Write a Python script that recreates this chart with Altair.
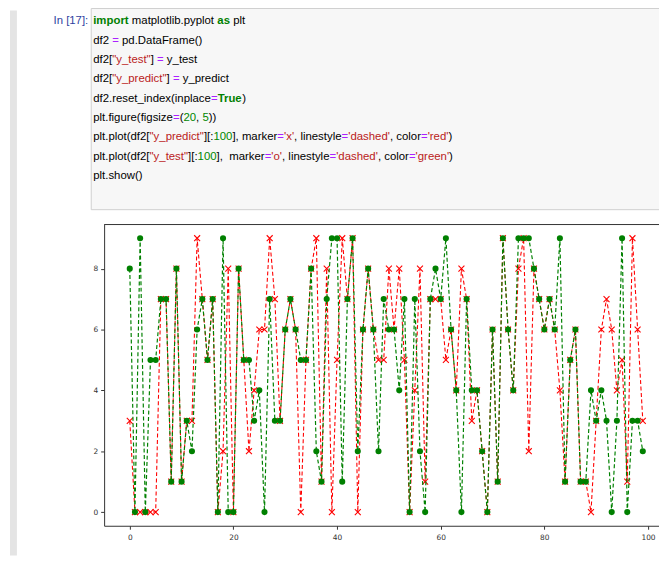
import altair as alt
import pandas as pd

# ---- data (first 100 rows) ----
index = list(range(100))
y_test = [8, 0, 9, 0, 5, 5, 7, 7, 1, 8, 1, 3, 2, 6, 7, 5, 7, 0, 9, 0,
          0, 8, 5, 5, 3, 4, 0, 7, 3, 3, 6, 7, 6, 5, 5, 8, 2, 1, 7, 9,
          9, 1, 7, 9, 2, 6, 8, 6, 2, 7, 6, 6, 4, 7, 0, 7, 2, 0, 7, 8,
          7, 9, 6, 4, 0, 7, 4, 4, 2, 0, 6, 1, 9, 6, 4, 9, 9, 9, 8, 7,
          6, 7, 6, 9, 1, 5, 6, 1, 1, 4, 3, 4, 3, 0, 3, 9, 0, 3, 3, 2]
y_predict = [3, 0, 0, 0, 0, 0, 7, 7, 1, 8, 1, 3, 3, 9, 7, 5, 7, 0, 2, 8,
             0, 8, 5, 2, 4, 6, 6, 9, 7, 3, 6, 7, 6, 0, 5, 8, 9, 1, 8, 0,
             5, 9, 7, 9, 0, 6, 8, 6, 5, 5, 8, 6, 8, 5, 0, 4, 8, 1, 7, 7,
             7, 5, 6, 4, 8, 7, 3, 4, 2, 0, 6, 1, 9, 6, 4, 8, 9, 2, 8, 7,
             6, 7, 6, 4, 1, 5, 6, 1, 1, 0, 3, 6, 7, 6, 4, 5, 1, 9, 6, 3]
x_ticks = [0, 20, 40, 60, 80, 100]
y_ticks = [0, 2, 4, 6, 8]

prompt = "In [17]:"
code_lines = [
    [("import", "kw"), (" matplotlib.pyplot ", "n"), ("as", "kw"), (" plt", "n")],
    [("df2 ", "n"), ("=", "op"), (" pd.DataFrame()", "n")],
    [("df2[", "n"), ('"y_test"', "s"), ("] ", "n"), ("=", "op"), (" y_test", "n")],
    [("df2[", "n"), ('"y_predict"', "s"), ("] ", "n"), ("=", "op"), (" y_predict", "n")],
    [("df2.reset_index(inplace", "n"), ("=", "op"), ("True", "kw"), (")", "n")],
    [("plt.figure(figsize", "n"), ("=", "op"), ("(", "n"), ("20", "num"), (", ", "n"),
     ("5", "num"), ("))", "n")],
    [("plt.plot(df2[", "n"), ('"y_predict"', "s"), ("][:", "n"), ("100", "num"),
     ("], marker", "n"), ("=", "op"), ("'x'", "s"), (", linestyle", "n"), ("=", "op"),
     ("'dashed'", "s"), (", color", "n"), ("=", "op"), ("'red'", "s"), (")", "n")],
    [("plt.plot(df2[", "n"), ('"y_test"', "s"), ("][:", "n"), ("100", "num"),
     ("],", "n"), ("  marker", "n"), ("=", "op"), ("'o'", "s"), (", linestyle", "n"),
     ("=", "op"), ("'dashed'", "s"), (", color", "n"), ("=", "op"), ("'green'", "s"),
     (")", "n")],
    [("plt.show()", "n")],
]

# ---- layout ----
PAD_L, PAD_T, PAD_B = 97, 216, 30
W, H = 560, 304
CODE_FONT = "Liberation Sans"
CODE_SIZE = 11.5

arial = {' ': 278, '"': 355, "'": 191, '(': 333, ')': 333, ',': 278, '.': 278, ':': 278,
         '=': 584, '[': 278, ']': 278, '_': 556, 'D': 722, 'F': 611, 'T': 611, 'I': 278}
for ch in "0123456789":
    arial[ch] = 556
arial.update({'a': 556, 'b': 556, 'c': 500, 'd': 556, 'e': 556, 'f': 278, 'g': 556, 'h': 556,
              'i': 222, 'j': 222, 'k': 500, 'l': 222, 'm': 833, 'n': 556, 'o': 556, 'p': 556,
              'q': 556, 'r': 333, 's': 500, 't': 278, 'u': 556, 'v': 500, 'w': 722, 'x': 500,
              'y': 500, 'z': 500})
arial_bold = dict(arial)
arial_bold.update({'i': 278, 'm': 889, 'p': 611, 'o': 611, 'r': 389, 't': 333, 'a': 556,
                   's': 556, 'T': 611, 'u': 611, 'e': 556})


def tw(text, bold=False):
    tbl = arial_bold if bold else arial
    return sum(tbl.get(c, 556) for c in text) * CODE_SIZE / 1000.0


colors = {"kw": "#008000", "n": "#000000", "op": "#AA22FF", "s": "#BA2121", "num": "#008800"}
rows = []
code_x0 = 94 - 105
for li, line in enumerate(code_lines):
    yy = 19 + 19.5 * li - 224
    xx = code_x0
    for text, kind in line:
        lead = len(text) - len(text.lstrip(" "))
        rows.append({"t": text.strip(" "), "tx": xx + tw(" " * lead), "ty": yy,
                     "c": colors[kind], "b": "bold" if kind == "kw" else "normal"})
        xx += tw(text, kind == "kw")
tok = pd.DataFrame(rows)

df = pd.DataFrame({"index": index, "y_test": y_test, "y_predict": y_predict})

xscale = alt.Scale(domain=[-4.95, -4.95 + W / 5.23], nice=False, zero=False)
yscale = alt.Scale(domain=[-0.45, 9.45], nice=False, zero=False)
ax_common = dict(labelFont="DejaVu Sans", labelFontSize=7.5, labelColor="#333333",
                 tickColor="#333333", tickSize=3.5, domainColor="#333333", domainWidth=1,
                 tickWidth=1, grid=False, title=None, format="d")
xaxis = alt.Axis(values=x_ticks, labelPadding=4, labelFlush=False, **ax_common)
yaxis = alt.Axis(values=y_ticks, labelPadding=3, **ax_common)

X = alt.X("index:Q", scale=xscale, axis=xaxis)

one = pd.DataFrame({"k": [0]})

left_bar = alt.Chart(one).mark_rect(color="#e4e4e4").encode(
    x=alt.value(10 - 105), x2=alt.value(17 - 105), y=alt.value(-PAD_T), y2=alt.value(H + PAD_B))
code_box = alt.Chart(one).mark_rect(fill="#f7f7f7", stroke="#cfcfcf", strokeWidth=1).encode(
    x=alt.value(92 - 105), x2=alt.value(W + 20), y=alt.value(-PAD_T - 2), y2=alt.value(209 - 224))
prompt_text = alt.Chart(one).mark_text(
    align="right", baseline="middle", font=CODE_FONT, fontSize=CODE_SIZE, color="#303F9F",
    text=prompt).encode(x=alt.value(89 - 105), y=alt.value(19 - 224))

code_norm = alt.Chart(tok).transform_filter("datum.b == 'normal'").mark_text(
    align="left", baseline="middle", font=CODE_FONT, fontSize=CODE_SIZE).encode(
    x=alt.X("tx:Q", scale=None, axis=None), y=alt.Y("ty:Q", scale=None, axis=None),
    text="t:N", color=alt.Color("c:N", scale=None))
code_bold = alt.Chart(tok).transform_filter("datum.b == 'bold'").mark_text(
    align="left", baseline="middle", font=CODE_FONT, fontSize=CODE_SIZE, fontWeight="bold").encode(
    x=alt.X("tx:Q", scale=None, axis=None), y=alt.Y("ty:Q", scale=None, axis=None),
    text="t:N", color=alt.Color("c:N", scale=None))

top_spine = alt.Chart(one).mark_rule(color="#333333", strokeWidth=1).encode(
    x=alt.value(0), x2=alt.value(W + 10), y=alt.value(0))

base = alt.Chart(df)
red_line = base.mark_line(color="red", strokeDash=[4, 2.5], strokeWidth=1.1).encode(
    x=X, y=alt.Y("y_predict:Q", scale=yscale, axis=yaxis))
red_pts = base.mark_point(shape="M-1,-1L1,1M-1,1L1,-1", filled=False, color="red",
                          size=36, strokeWidth=1.1, opacity=1).encode(
    x=X, y=alt.Y("y_predict:Q", scale=yscale, axis=yaxis))
green_line = base.mark_line(color="green", strokeDash=[4, 2.5], strokeWidth=1.2).encode(
    x=X, y=alt.Y("y_test:Q", scale=yscale, axis=yaxis))
green_pts = base.mark_point(shape="circle", filled=True, color="green", size=38,
                            opacity=1).encode(
    x=X, y=alt.Y("y_test:Q", scale=yscale, axis=yaxis))

chart = alt.layer(
    left_bar, code_box, prompt_text, code_norm, code_bold,
    red_line, red_pts, green_line, green_pts, top_spine
).properties(
    width=W, height=H,
    autosize=alt.AutoSizeParams(type="none"),
    padding={"left": PAD_L, "top": PAD_T, "right": 0, "bottom": PAD_B},
    background="white",
).configure_view(stroke=None)

chart.save("out.html", embed_options={"renderer": "svg", "actions": False})
